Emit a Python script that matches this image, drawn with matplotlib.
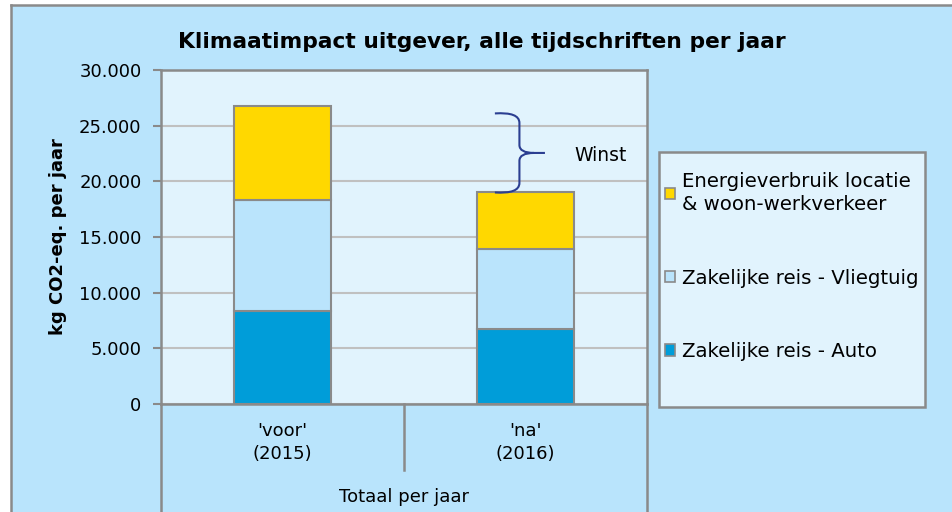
import matplotlib
matplotlib.use("Agg")
import matplotlib.pyplot as plt
from matplotlib.patches import Rectangle, Patch
from matplotlib.path import Path
from matplotlib.patches import PathPatch
from matplotlib.lines import Line2D
import matplotlib.transforms as mtransforms

# ---- data ----
categories = ["'voor'\n(2015)", "'na'\n(2016)"]
auto = [8350, 6750]
vliegtuig = [9950, 7200]
energie = [8450, 5050]
series_labels = ["Zakelijke reis - Auto", "Zakelijke reis - Vliegtuig",
                 "Energieverbruik locatie\n& woon-werkverkeer"]
yticks = [0, 5000, 10000, 15000, 20000, 25000, 30000]
ytick_labels = ["0", "5.000", "10.000", "15.000", "20.000", "25.000", "30.000"]
title = "Klimaatimpact uitgever, alle tijdschriften per jaar"
ylabel = "kg CO2-eq. per jaar"
xlabel = "Totaal per jaar"
annot = "Winst"

# ---- style ----
W, H = 953, 512
outer_bg = "#B9E4FC"
plot_bg = "#E1F3FD"
c_auto = "#009DD9"
c_vlieg = "#BAE4FC"
c_energie = "#FFD800"
edge = "#8A8A8A"
grid_c = "#C0C0C0"
font = "DejaVu Sans"
plt.rcParams['font.family'] = [font]

fig = plt.figure(figsize=(W / 100, H / 100), dpi=100)
fig.patch.set_facecolor(outer_bg)

def fx(px):
    return px / W

def fy(py):
    return 1 - py / H

# white margin at top and left, then the chart-area border lines
fig.add_artist(Rectangle((0, fy(5)), 1, 1 - fy(5), transform=fig.transFigure,
                         facecolor="white", edgecolor="none", zorder=0))
fig.add_artist(Rectangle((0, 0), fx(11), 1, transform=fig.transFigure,
                         facecolor="white", edgecolor="none", zorder=0))
fig.add_artist(Line2D([fx(11), 1], [fy(5), fy(5)], transform=fig.transFigure,
                      color=edge, linewidth=1.8, zorder=1))
fig.add_artist(Line2D([fx(11), fx(11)], [0, fy(5)], transform=fig.transFigure,
                      color=edge, linewidth=1.8, zorder=1))

L, T, R, B = 161, 70, 647, 404
ax = fig.add_axes([fx(L), fy(B), fx(R) - fx(L), fy(T) - fy(B)])
ax.set_facecolor(plot_bg)

x = list(range(len(categories)))
w = 0.4
b1 = [0] * len(x)
b2 = [a for a in auto]
b3 = [a + v for a, v in zip(auto, vliegtuig)]
ax.bar(x, auto, w, bottom=b1, color=c_auto, edgecolor=edge, linewidth=1.5, zorder=3, label=series_labels[0])
ax.bar(x, vliegtuig, w, bottom=b2, color=c_vlieg, edgecolor=edge, linewidth=1.5, zorder=3, label=series_labels[1])
ax.bar(x, energie, w, bottom=b3, color=c_energie, edgecolor=edge, linewidth=1.5, zorder=3, label=series_labels[2])

ax.set_xlim(-0.5, len(x) - 0.5)
ax.set_ylim(0, 30000)
ax.set_yticks(yticks)
ax.set_yticklabels(ytick_labels, fontsize=13)
ax.yaxis.grid(True, color=grid_c, linewidth=1.5, zorder=1)
ax.set_axisbelow(True)
ax.tick_params(axis='y', length=6, width=1.5, color=edge, pad=8)
ax.set_xticks(x)
ax.set_xticklabels(categories, fontsize=13, linespacing=1.35)
ax.tick_params(axis='x', length=0, pad=13)
for s in ax.spines.values():
    s.set_color(edge)
    s.set_linewidth(1.8)

# category separators below axis
trans = mtransforms.blended_transform_factory(ax.transData, fig.transFigure)
for xs, ybot in [(-0.5, 540), (0.5, 470), (1.5, 540)]:
    ax.plot([xs, xs], [fy(B), fy(ybot)], transform=trans, color=edge,
            linewidth=1.8, clip_on=False, zorder=5)

fig.text(fx(404), fy(497), xlabel, ha='center', va='center', fontsize=13)
fig.text(fx(58), fy(237), ylabel, ha='center', va='center', rotation=90,
         fontsize=13, fontweight='bold')
fig.text(fx(482), fy(42), title, ha='center', va='center', fontsize=15.7,
         fontweight='bold')

# brace showing the gain
totals = [a + v + e for a, v, e in zip(auto, vliegtuig, energie)]
top = totals[0] - 650
bot = totals[1]
mid = (top + bot) / 2
x0, xv, xt = 0.874, 0.975, 1.08
h = (top - bot)
verts = [(x0, top), (xv, top + 0.02 * h), (xv, top - 0.12 * h),
         (xv, mid + 0.1 * h),
         (xv, mid), (xv + 0.06, mid), (xt, mid),
         (xv + 0.06, mid), (xv, mid), (xv, mid - 0.1 * h),
         (xv, bot + 0.12 * h),
         (xv, bot - 0.02 * h), (x0, bot)]
codes = [Path.MOVETO, Path.CURVE3, Path.CURVE3,
         Path.LINETO,
         Path.CURVE3, Path.CURVE3, Path.LINETO,
         Path.MOVETO, Path.CURVE3, Path.CURVE3,
         Path.LINETO,
         Path.CURVE3, Path.CURVE3]
ax.add_patch(PathPatch(Path(verts, codes), facecolor='none', edgecolor="#2B3E91",
                       linewidth=1.5, zorder=6, clip_on=False))
ax.text(1.31, mid - 250, annot, fontsize=13.5, ha='center', va='center', zorder=6)

# legend box
fig.add_artist(Rectangle((fx(659), fy(407)), fx(925) - fx(659), fy(152) - fy(407),
                         transform=fig.transFigure, facecolor=plot_bg,
                         edgecolor=edge, linewidth=1.8, zorder=4))
handles = [Patch(facecolor=c_energie, edgecolor=edge, linewidth=1.2),
           Patch(facecolor=c_vlieg, edgecolor=edge, linewidth=1.2),
           Patch(facecolor=c_auto, edgecolor=edge, linewidth=1.2)]
labels = [series_labels[2], series_labels[1], series_labels[0]]
leg = fig.legend(handles, labels, loc='upper left',
                 bbox_to_anchor=(fx(665), fy(172)), bbox_transform=fig.transFigure,
                 fontsize=14.2, frameon=False,
                 handlelength=0.5, handleheight=0.5, handletextpad=0.35,
                 labelspacing=2.75, borderpad=0, borderaxespad=0)
for t in leg.get_texts():
    t.set_linespacing(1.3)
leg.set_zorder(5)

fig.savefig("out.png", dpi=100, facecolor=fig.get_facecolor())
